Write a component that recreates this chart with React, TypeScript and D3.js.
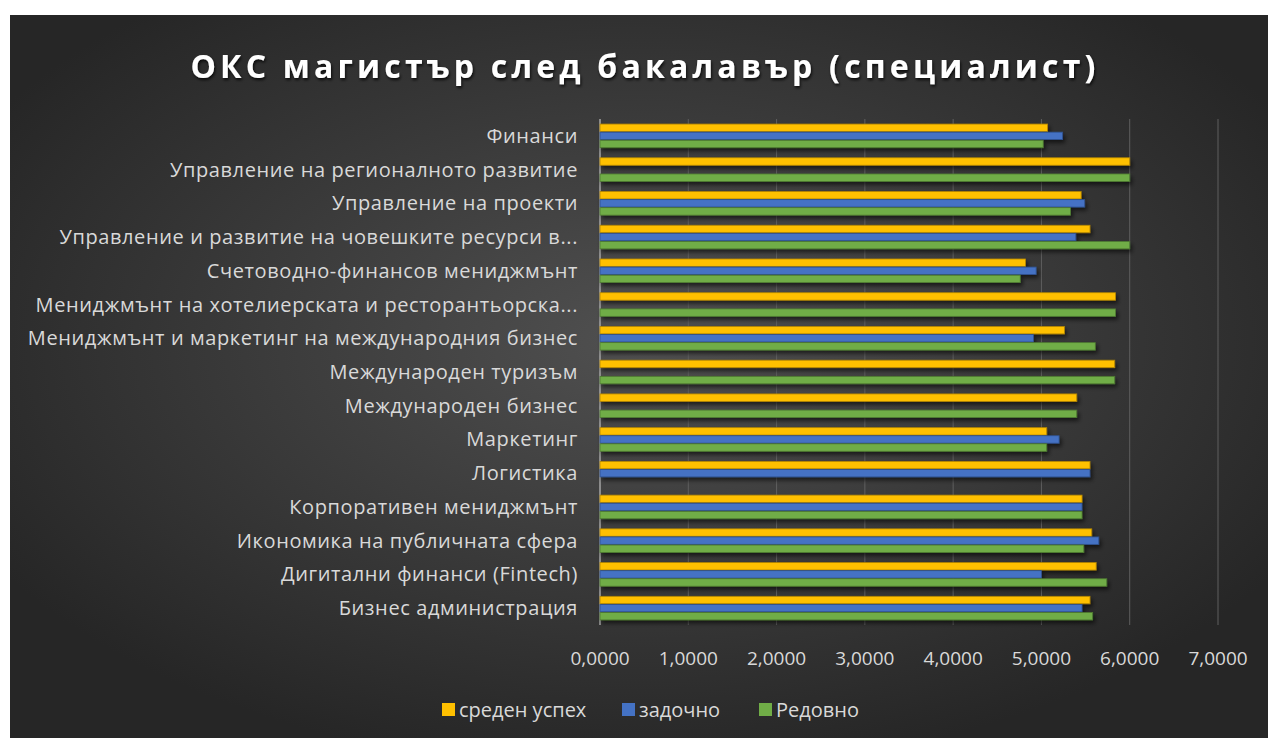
import * as d3 from "d3";

const CATEGORIES = [
  "Финанси",
  "Управление на регионалното развитие",
  "Управление на проекти",
  "Управление и развитие на човешките ресурси в...",
  "Счетоводно-финансов мениджмънт",
  "Мениджмънт на хотелиерската и ресторантьорска...",
  "Мениджмънт и маркетинг на международния бизнес",
  "Международен туризъм",
  "Международен бизнес",
  "Маркетинг",
  "Логистика",
  "Корпоративен мениджмънт",
  "Икономика на публичната сфера",
  "Дигитални финанси (Fintech)",
  "Бизнес администрация",
];

const SREDEN = [5.07, 6.0, 5.45, 5.55, 4.82, 5.84, 5.26, 5.83, 5.4, 5.06, 5.55, 5.46, 5.57, 5.62, 5.55];
const ZADOCHNO = [5.24, null, 5.49, 5.39, 4.94, null, 4.91, null, null, 5.2, 5.55, 5.46, 5.65, 5.0, 5.46];
const REDOVNO = [5.02, 6.0, 5.33, 6.0, 4.76, 5.84, 5.61, 5.83, 5.4, 5.06, null, 5.46, 5.48, 5.74, 5.58];

const SERIES = [
  { name: "среден успех", values: SREDEN, color: "#FFC000", stroke: "#B38600" },
  { name: "задочно", values: ZADOCHNO, color: "#4472C4", stroke: "#2F528F" },
  { name: "Редовно", values: REDOVNO, color: "#70AD47", stroke: "#4E7A31" },
];

const TICKS = [0, 1, 2, 3, 4, 5, 6, 7];

const W = 1268;
const H = 738;
const FONT = "'Open Sans', 'Noto Sans', sans-serif";

export default function App() {
  const margin = { left: 600, right: 50, top: 119, bottom: 113 };
  const x = d3.scaleLinear().domain([0, 7]).range([margin.left, 1218]);
  const y = d3
    .scaleBand<string>()
    .domain(CATEGORIES)
    .range([margin.top, H - margin.bottom])
    .paddingInner(0.3)
    .paddingOuter(0.15);
  const inner = d3
    .scaleBand<string>()
    .domain(SERIES.map((s) => s.name))
    .range([0, y.bandwidth()])
    .paddingInner(0.08);
  const fmt = (v: number) => v.toFixed(4).replace(".", ",");

  const legendX = [442, 622, 759];

  return (
    <div style={{ position: "absolute", left: 0, top: 0 }}>
      <svg width={W} height={H} style={{ display: "block", background: "#fff" }}>
        <defs>
          <radialGradient id="bg" cx="50%" cy="45%" r="60%">
            <stop offset="0%" stopColor="#505050" />
            <stop offset="100%" stopColor="#262626" />
          </radialGradient>
          <filter id="shadow" x="-5%" y="-50%" width="110%" height="250%">
            <feDropShadow dx="2" dy="3" stdDeviation="2" floodColor="#000" floodOpacity="0.6" />
          </filter>
          <filter id="tshadow" x="-5%" y="-30%" width="110%" height="160%">
            <feDropShadow dx="1" dy="2" stdDeviation="1.5" floodColor="#000" floodOpacity="0.8" />
          </filter>
        </defs>
        <rect x={10} y={15} width={W - 10} height={H - 15} fill="url(#bg)" />

        <text
          x={645}
          y={78}
          textAnchor="middle"
          fill="#fff"
          fontFamily={FONT}
          fontWeight="bold"
          fontSize={32}
          letterSpacing={4.2}
          filter="url(#tshadow)"
        >
          ОКС магистър след бакалавър (специалист)
        </text>

        {TICKS.map((t) => (
          <line
            key={t}
            x1={x(t)}
            x2={x(t)}
            y1={margin.top}
            y2={H - margin.bottom}
            stroke={t === 0 ? "#a6a6a6" : "#5f5f5f"}
            strokeWidth={t === 0 ? 1.5 : 1}
          />
        ))}

        {CATEGORIES.map((c, i) => (
          <g key={c}>
            {SERIES.map((s) => {
              const v = s.values[i];
              if (v == null) return null;
              return (
                <rect
                  key={s.name}
                  x={x(0)}
                  y={(y(c) ?? 0) + (inner(s.name) ?? 0)}
                  width={x(v) - x(0)}
                  height={inner.bandwidth()}
                  fill={s.color}
                  stroke={s.stroke}
                  strokeWidth={0.8}
                  filter="url(#shadow)"
                />
              );
            })}
            <text
              x={578}
              y={(y(c) ?? 0) + y.bandwidth() / 2}
              dy="0.35em"
              textAnchor="end"
              fill="#d9d9d9"
              fontFamily={FONT}
              fontSize={20}
              letterSpacing={0.6}
            >
              {c}
            </text>
          </g>
        ))}

        {TICKS.map((t) => (
          <text
            key={t}
            x={x(t)}
            y={665}
            textAnchor="middle"
            fill="#d9d9d9"
            fontFamily={FONT}
            fontSize={19}
          >
            {fmt(t)}
          </text>
        ))}

        {SERIES.map((s, i) => (
          <g key={s.name} transform={`translate(${legendX[i]},710)`}>
            <rect x={0} y={-7} width={13} height={13} fill={s.color} />
            <text x={17} y={0} dy="0.35em" fill="#d9d9d9" fontFamily={FONT} fontSize={20}>
              {s.name}
            </text>
          </g>
        ))}
      </svg>
    </div>
  );
}
